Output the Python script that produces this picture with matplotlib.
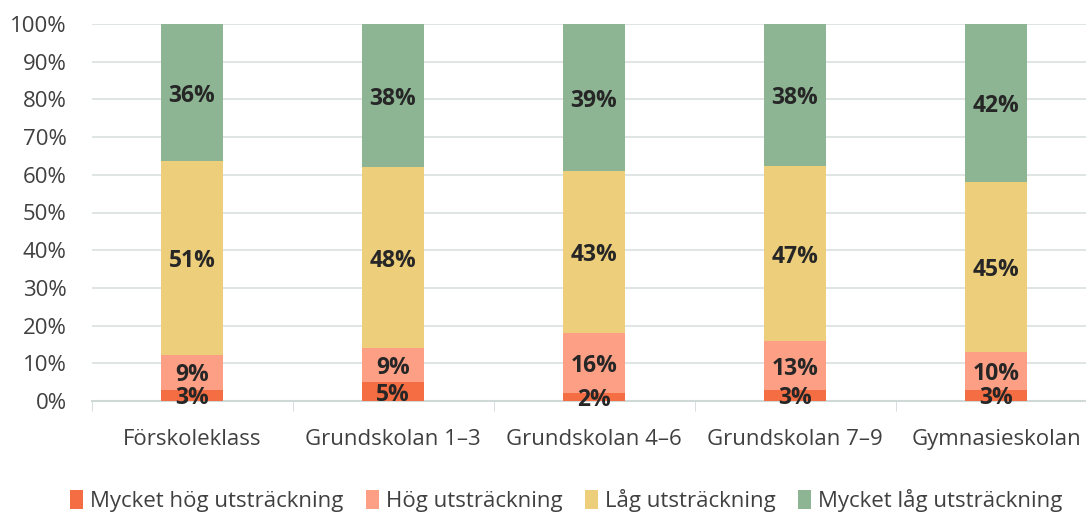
import numpy as np
import matplotlib.pyplot as plt

plt.rcParams['font.family'] = ['Open Sans', 'DejaVu Sans']

categories = ['Förskoleklass', 'Grundskolan 1–3', 'Grundskolan 4–6', 'Grundskolan 7–9', 'Gymnasieskolan']
series_names = ['Mycket hög utsträckning', 'Hög utsträckning', 'Låg utsträckning', 'Mycket låg utsträckning']
mycket_hog = [3, 5, 2, 3, 3]
hog = [9, 9, 16, 13, 10]
lag = [51, 48, 43, 47, 45]
mycket_lag = [36, 38, 39, 38, 42]

colors = ['#F46D43', '#FC9F84', '#EDCE7B', '#8DB593']

data = np.array([mycket_hog, hog, lag, mycket_lag], dtype=float)
shares = data / data.sum(axis=0) * 100

fig = plt.figure(figsize=(10.86, 5.14), dpi=100)
ax = fig.add_axes([91.5 / 1086, 113 / 514, 1005 / 1086, 377 / 514])

x = np.arange(len(categories))
bottom = np.zeros(len(categories))
for i in range(4):
    ax.bar(x, shares[i], 0.31, bottom=bottom, color=colors[i], label=series_names[i], zorder=3)
    for j in range(len(categories)):
        ax.text(x[j], bottom[j] + shares[i][j] / 2, f'{int(data[i][j])}%', ha='center', va='center_baseline',
                fontsize=16.5, fontweight='bold', color='#262626', zorder=4)
    bottom += shares[i]

ax.set_xlim(-0.5, len(categories) - 0.5)
ax.set_ylim(0, 100)
ax.set_yticks(range(0, 101, 10))
ax.set_yticklabels([f'{v}%' for v in range(0, 101, 10)])
ax.set_xticks(x)
ax.set_xticklabels(categories)
ax.set_xticks(np.arange(-0.5, len(categories), 1), minor=True)
ax.tick_params(axis='x', which='major', length=0, pad=20, labelsize=16, labelcolor='#404040')
ax.tick_params(axis='x', which='minor', length=7, color='#D0D8D8', direction='out')
ax.tick_params(axis='y', length=0, pad=18, labelsize=16, labelcolor='#404040')
ax.grid(axis='y', color='#D9E0E0', linewidth=1.2, zorder=0)
for s in ['top', 'right', 'left']:
    ax.spines[s].set_visible(False)
ax.spines['bottom'].set_color('#D0D8D8')
ax.spines['bottom'].set_linewidth(1.5)

fig.legend(loc='lower center', bbox_to_anchor=(566 / 1086, -0.035), ncol=4, frameon=False,
           fontsize=16, handlelength=0.6, handleheight=0.9, handletextpad=0.3, columnspacing=1.0,
           labelcolor='#404040')

fig.savefig('out.png', dpi=100)
